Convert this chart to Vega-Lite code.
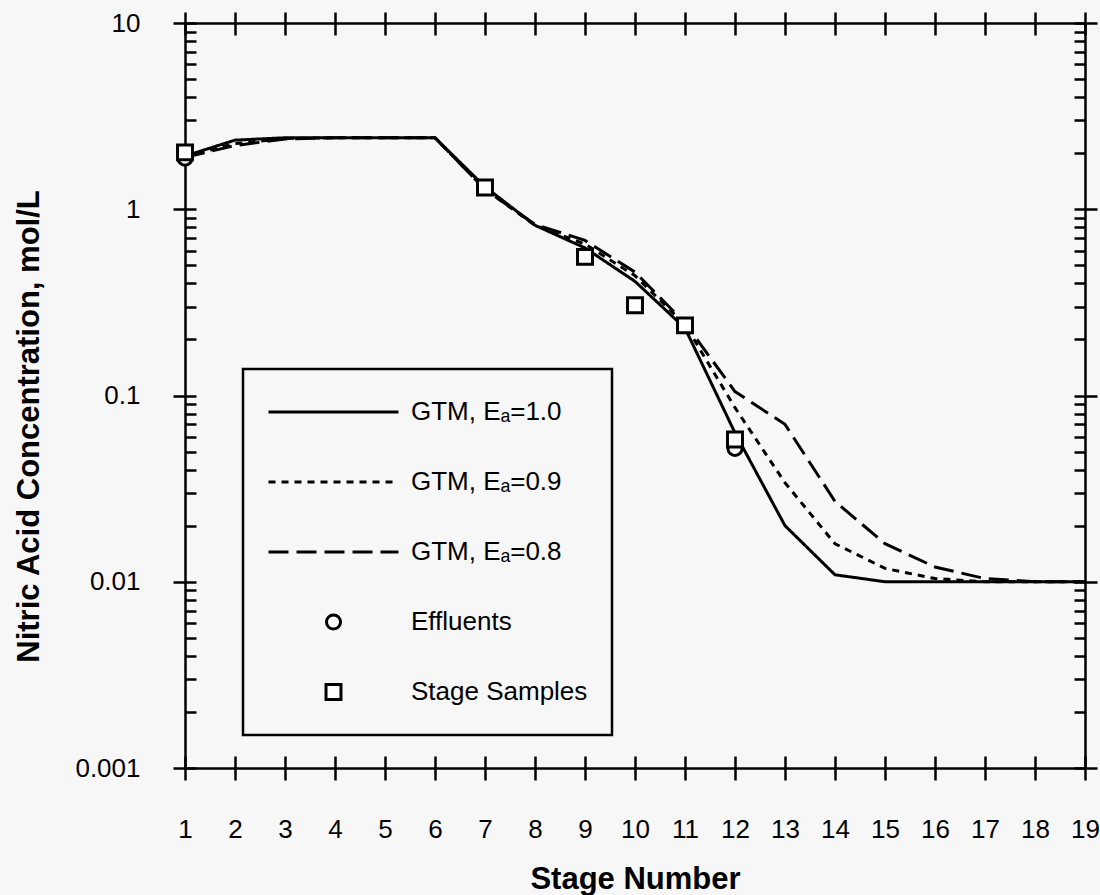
{
  "$schema": "https://vega.github.io/schema/vega-lite/v6.json",
  "width": 900,
  "height": 745,
  "autosize": {"type": "none"},
  "padding": {"left": 185, "top": 23, "right": 15, "bottom": 127},
  "background": "#f7f7f7",
  "config": {
    "font": "Liberation Sans",
    "view": {"stroke": null},
    "axis": {"grid": false, "domainColor": "black", "tickColor": "black", "domainWidth": 2.5, "tickWidth": 2.5, "labelColor": "black", "titleColor": "black", "labelFlush": false, "labelOverlap": false},
    "legend": {"strokeWidth": 2.5}
  },
  "data": {"values": [
    {"stage": 1, "conc": 1.93, "series": "GTM, Eₐ=1.0"},
    {"stage": 2, "conc": 2.35, "series": "GTM, Eₐ=1.0"},
    {"stage": 3, "conc": 2.42, "series": "GTM, Eₐ=1.0"},
    {"stage": 4, "conc": 2.42, "series": "GTM, Eₐ=1.0"},
    {"stage": 5, "conc": 2.42, "series": "GTM, Eₐ=1.0"},
    {"stage": 6, "conc": 2.42, "series": "GTM, Eₐ=1.0"},
    {"stage": 7, "conc": 1.32, "series": "GTM, Eₐ=1.0"},
    {"stage": 8, "conc": 0.82, "series": "GTM, Eₐ=1.0"},
    {"stage": 9, "conc": 0.62, "series": "GTM, Eₐ=1.0"},
    {"stage": 10, "conc": 0.41, "series": "GTM, Eₐ=1.0"},
    {"stage": 11, "conc": 0.23, "series": "GTM, Eₐ=1.0"},
    {"stage": 12, "conc": 0.063, "series": "GTM, Eₐ=1.0"},
    {"stage": 13, "conc": 0.020, "series": "GTM, Eₐ=1.0"},
    {"stage": 14, "conc": 0.0109, "series": "GTM, Eₐ=1.0"},
    {"stage": 15, "conc": 0.0100, "series": "GTM, Eₐ=1.0"},
    {"stage": 16, "conc": 0.0100, "series": "GTM, Eₐ=1.0"},
    {"stage": 17, "conc": 0.0100, "series": "GTM, Eₐ=1.0"},
    {"stage": 18, "conc": 0.0100, "series": "GTM, Eₐ=1.0"},
    {"stage": 19, "conc": 0.0100, "series": "GTM, Eₐ=1.0"},
    {"stage": 1, "conc": 1.92, "series": "GTM, Eₐ=0.9"},
    {"stage": 2, "conc": 2.25, "series": "GTM, Eₐ=0.9"},
    {"stage": 3, "conc": 2.40, "series": "GTM, Eₐ=0.9"},
    {"stage": 4, "conc": 2.42, "series": "GTM, Eₐ=0.9"},
    {"stage": 5, "conc": 2.42, "series": "GTM, Eₐ=0.9"},
    {"stage": 6, "conc": 2.42, "series": "GTM, Eₐ=0.9"},
    {"stage": 7, "conc": 1.28, "series": "GTM, Eₐ=0.9"},
    {"stage": 8, "conc": 0.82, "series": "GTM, Eₐ=0.9"},
    {"stage": 9, "conc": 0.65, "series": "GTM, Eₐ=0.9"},
    {"stage": 10, "conc": 0.44, "series": "GTM, Eₐ=0.9"},
    {"stage": 11, "conc": 0.24, "series": "GTM, Eₐ=0.9"},
    {"stage": 12, "conc": 0.086, "series": "GTM, Eₐ=0.9"},
    {"stage": 13, "conc": 0.034, "series": "GTM, Eₐ=0.9"},
    {"stage": 14, "conc": 0.016, "series": "GTM, Eₐ=0.9"},
    {"stage": 15, "conc": 0.0118, "series": "GTM, Eₐ=0.9"},
    {"stage": 16, "conc": 0.0104, "series": "GTM, Eₐ=0.9"},
    {"stage": 17, "conc": 0.0100, "series": "GTM, Eₐ=0.9"},
    {"stage": 18, "conc": 0.0100, "series": "GTM, Eₐ=0.9"},
    {"stage": 19, "conc": 0.0100, "series": "GTM, Eₐ=0.9"},
    {"stage": 1, "conc": 1.90, "series": "GTM, Eₐ=0.8"},
    {"stage": 2, "conc": 2.20, "series": "GTM, Eₐ=0.8"},
    {"stage": 3, "conc": 2.38, "series": "GTM, Eₐ=0.8"},
    {"stage": 4, "conc": 2.42, "series": "GTM, Eₐ=0.8"},
    {"stage": 5, "conc": 2.42, "series": "GTM, Eₐ=0.8"},
    {"stage": 6, "conc": 2.42, "series": "GTM, Eₐ=0.8"},
    {"stage": 7, "conc": 1.28, "series": "GTM, Eₐ=0.8"},
    {"stage": 8, "conc": 0.83, "series": "GTM, Eₐ=0.8"},
    {"stage": 9, "conc": 0.68, "series": "GTM, Eₐ=0.8"},
    {"stage": 10, "conc": 0.46, "series": "GTM, Eₐ=0.8"},
    {"stage": 11, "conc": 0.245, "series": "GTM, Eₐ=0.8"},
    {"stage": 12, "conc": 0.105, "series": "GTM, Eₐ=0.8"},
    {"stage": 13, "conc": 0.070, "series": "GTM, Eₐ=0.8"},
    {"stage": 14, "conc": 0.027, "series": "GTM, Eₐ=0.8"},
    {"stage": 15, "conc": 0.016, "series": "GTM, Eₐ=0.8"},
    {"stage": 16, "conc": 0.012, "series": "GTM, Eₐ=0.8"},
    {"stage": 17, "conc": 0.0104, "series": "GTM, Eₐ=0.8"},
    {"stage": 18, "conc": 0.0100, "series": "GTM, Eₐ=0.8"},
    {"stage": 19, "conc": 0.0100, "series": "GTM, Eₐ=0.8"},
    {"stage": 1, "conc": 1.88, "series": "Effluents"},
    {"stage": 12, "conc": 0.052, "series": "Effluents"},
    {"stage": 1, "conc": 2.02, "series": "Stage Samples"},
    {"stage": 7, "conc": 1.31, "series": "Stage Samples"},
    {"stage": 9, "conc": 0.555, "series": "Stage Samples"},
    {"stage": 10, "conc": 0.305, "series": "Stage Samples"},
    {"stage": 11, "conc": 0.238, "series": "Stage Samples"},
    {"stage": 12, "conc": 0.058, "series": "Stage Samples"}
  ]},
  "layer": [
    {
      "transform": [{"filter": "datum.series === 'GTM, Eₐ=1.0'"}],
      "mark": {"type": "line", "strokeWidth": 3, "color": "black"},
      "encoding": {
        "x": {"field": "stage", "type": "quantitative", "scale": {"domain": [1, 19], "nice": false, "zero": false},
          "axis": {"orient": "bottom", "values": [1,2,3,4,5,6,7,8,9,10,11,12,13,14,15,16,17,18,19], "format": "d", "tickSize": 12, "labelPadding": 36, "labelFontSize": 26, "labelBaseline": "top", "title": "Stage Number", "titleFontSize": 31, "titleFontWeight": "bold", "titleBaseline": "top", "titleX": 450, "titleY": 96, "titleAlign": "center"}},
        "y": {"field": "conc", "type": "quantitative", "scale": {"type": "log", "domain": [0.001, 10], "nice": false},
          "axis": {"orient": "left", "values": [0.001, 0.01, 0.1, 1, 10], "format": "~g", "tickSize": 12, "labelPadding": 33, "labelFontSize": 26, "title": "Nitric Acid Concentration, mol/L", "titleFontSize": 31, "titleFontWeight": "bold", "titleAngle": 270, "titleBaseline": "alphabetic", "titleAlign": "center", "titleX": -147, "titleY": 403}},
        "strokeDash": {"field": "series", "type": "nominal",
          "scale": {"domain": ["GTM, Eₐ=1.0", "GTM, Eₐ=0.9", "GTM, Eₐ=0.8"], "range": [[1, 0], [7, 6], [20, 8]]},
          "legend": null}
      }
    },
    {
      "transform": [{"filter": "datum.series === 'GTM, Eₐ=0.9'"}],
      "mark": {"type": "line", "strokeWidth": 3, "color": "black"},
      "encoding": {
        "x": {"field": "stage", "type": "quantitative", "axis": {"orient": "bottom", "values": [1,2,3,4,5,6,7,8,9,10,11,12,13,14,15,16,17,18,19], "tickSize": -12, "labels": false, "domain": false, "title": null}},
        "y": {"field": "conc", "type": "quantitative", "axis": {"orient": "left", "values": [0.001,0.002,0.003,0.004,0.005,0.006,0.007,0.008,0.009,0.01,0.02,0.03,0.04,0.05,0.06,0.07,0.08,0.09,0.1,0.2,0.3,0.4,0.5,0.6,0.7,0.8,0.9,1,2,3,4,5,6,7,8,9,10], "tickSize": -11, "labels": false, "domain": false, "title": null}},
        "strokeDash": {"field": "series", "type": "nominal", "legend": null}
      }
    },
    {
      "transform": [{"filter": "datum.series === 'GTM, Eₐ=0.8'"}],
      "mark": {"type": "line", "strokeWidth": 3, "color": "black"},
      "encoding": {
        "x": {"field": "stage", "type": "quantitative", "axis": {"orient": "top", "values": [1,2,3,4,5,6,7,8,9,10,11,12,13,14,15,16,17,18,19], "tickSize": 11, "labels": false, "domain": true, "title": null}},
        "y": {"field": "conc", "type": "quantitative", "axis": {"orient": "right", "values": [0.001, 0.01, 0.1, 1, 10], "tickSize": 12, "labels": false, "domain": true, "title": null}},
        "strokeDash": {"field": "series", "type": "nominal", "legend": null}
      }
    },
    {
      "transform": [{"filter": "datum.series === 'Effluents'"}],
      "mark": {"type": "point", "fill": "white", "stroke": "black", "strokeWidth": 3, "filled": false, "opacity": 1, "fillOpacity": 1, "size": 16900},
      "encoding": {
        "x": {"field": "stage", "type": "quantitative", "axis": {"orient": "top", "values": [1,2,3,4,5,6,7,8,9,10,11,12,13,14,15,16,17,18,19], "tickSize": -12, "labels": false, "domain": false, "title": null}},
        "y": {"field": "conc", "type": "quantitative", "axis": {"orient": "right", "values": [0.001,0.002,0.003,0.004,0.005,0.006,0.007,0.008,0.009,0.01,0.02,0.03,0.04,0.05,0.06,0.07,0.08,0.09,0.1,0.2,0.3,0.4,0.5,0.6,0.7,0.8,0.9,1,2,3,4,5,6,7,8,9,10], "tickSize": -11, "labels": false, "domain": false, "title": null}},
        "shape": {"field": "series", "type": "nominal",
          "scale": {"domain": ["GTM, Eₐ=1.0", "GTM, Eₐ=0.9", "GTM, Eₐ=0.8", "Effluents", "Stage Samples"],
            "range": [
              "M-1,0H1",
              "M-1,0H-0.892M-0.8,0H-0.692M-0.6,0H-0.492M-0.4,0H-0.292M-0.2,0H-0.092M0,0H0.108M0.2,0H0.308M0.4,0H0.508M0.6,0H0.708M0.8,0H0.908",
              "M-1,0H-0.6923M-0.5692,0H-0.2615M-0.1385,0H0.1692M0.2923,0H0.6M0.7231,0H1",
              "M0.108,0A0.108,0.108,0,1,1,-0.108,0A0.108,0.108,0,1,1,0.108,0Z",
              "M-0.115,-0.115H0.115V0.115H-0.115Z"
            ]},
          "legend": {"title": null, "orient": "none", "legendX": 58, "legendY": 346, "direction": "vertical", "columns": 1, "padding": 24, "strokeColor": "black", "clipHeight": 38, "rowPadding": 32, "labelFontSize": 26, "labelFont": "Liberation Sans", "labelColor": "black", "labelOffset": 11, "labelLimit": 400, "symbolSize": 16900, "symbolStrokeWidth": 3, "symbolOpacity": 1}}
      }
    },
    {
      "transform": [{"filter": "datum.series === 'Stage Samples'"}],
      "mark": {"type": "point", "fill": "white", "stroke": "black", "strokeWidth": 3, "filled": false, "opacity": 1, "fillOpacity": 1, "size": 16900},
      "encoding": {
        "x": {"field": "stage", "type": "quantitative", "axis": null},
        "y": {"field": "conc", "type": "quantitative", "axis": null},
        "shape": {"field": "series", "type": "nominal"}
      }
    }
  ],
  "resolve": {"axis": {"x": "independent", "y": "independent"}}
}
